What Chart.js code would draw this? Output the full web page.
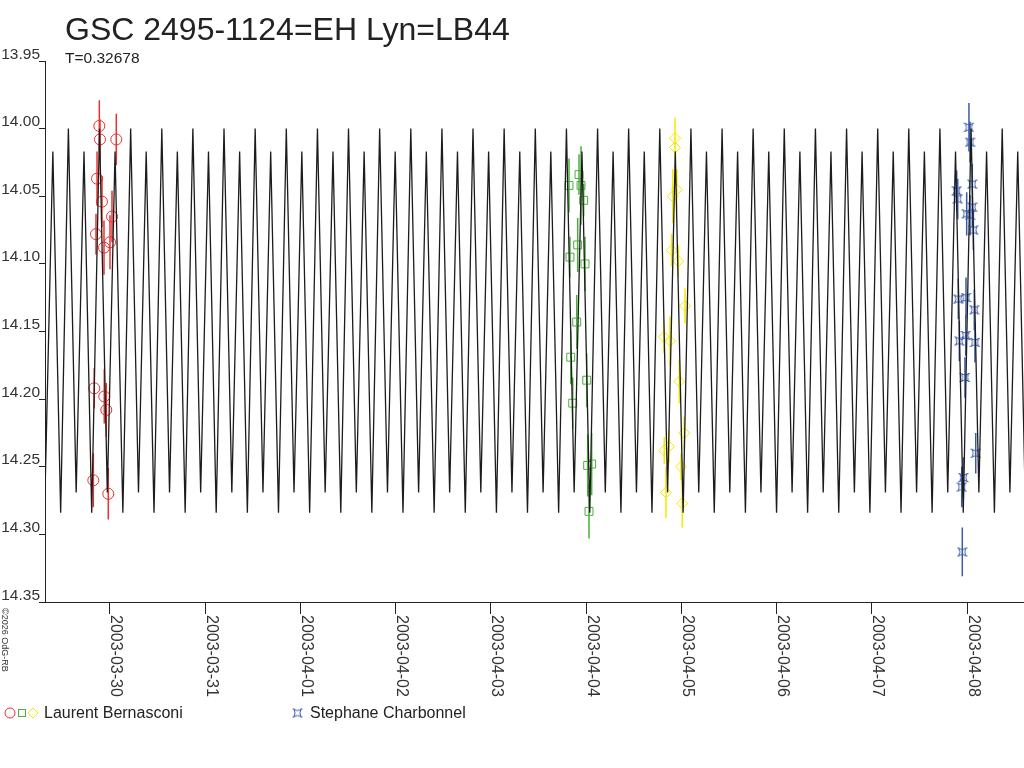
<!DOCTYPE html>
<html>
<head>
<meta charset="utf-8">
<title>GSC 2495-1124=EH Lyn=LB44</title>
<script src="https://cdn.jsdelivr.net/npm/chart.js@4.4.1/dist/chart.umd.min.js"></script>
<style>
  html, body { margin: 0; padding: 0; background: #fff; }
  #lightCurve { display: block; }
</style>
</head>
<body>
<canvas id="lightCurve" width="1024" height="768"></canvas>
<script>
// x values are days counted from 2003-03-00 (so 2003-04-01 = 32)
const xTickDays = [30, 31, 32, 33, 34, 35, 36, 37, 38, 39];
const xTickLabels = ['2003-03-30', '2003-03-31', '2003-04-01', '2003-04-02', '2003-04-03',
                     '2003-04-04', '2003-04-05', '2003-04-06', '2003-04-07', '2003-04-08'];
const yTicks = [13.95, 14.00, 14.05, 14.10, 14.15, 14.20, 14.25, 14.30, 14.35];

// model light curve, extrema (T = 0.32678 d)
const curveDays = [
  29.237, 29.318, 29.400, 29.482,  29.563, 29.645, 29.727, 29.808,
  29.890, 29.972, 30.053, 30.135,  30.217, 30.299, 30.380, 30.462,
  30.544, 30.625, 30.707, 30.789,  30.870, 30.952, 31.034, 31.115,
  31.197, 31.279, 31.361, 31.442,  31.524, 31.606, 31.687, 31.769,
  31.851, 31.932, 32.014, 32.096,  32.178, 32.259, 32.341, 32.423,
  32.504, 32.586, 32.668, 32.749,  32.831, 32.913, 32.994, 33.076,
  33.158, 33.240, 33.321, 33.403,  33.485, 33.566, 33.648, 33.730,
  33.811, 33.893, 33.975, 34.057,  34.138, 34.220, 34.302, 34.383,
  34.465, 34.547, 34.628, 34.710,  34.792, 34.873, 34.955, 35.037,
  35.119, 35.200, 35.282, 35.364,  35.445, 35.527, 35.609, 35.690,
  35.772, 35.854, 35.935, 36.017,  36.099, 36.181, 36.262, 36.344,
  36.426, 36.507, 36.589, 36.671,  36.752, 36.834, 36.916, 36.998,
  37.079, 37.161, 37.243, 37.324,  37.406, 37.488, 37.569, 37.651,
  37.733, 37.815, 37.896, 37.978,  38.060, 38.141, 38.223, 38.305,
  38.386, 38.468, 38.550, 38.631,  38.713, 38.795, 38.877, 38.958,
  39.040, 39.122, 39.203, 39.285,  39.367, 39.448, 39.530, 39.612,
  39.693
];
const curveMags = [
  14.000, 14.269, 14.017, 14.284,  14.000, 14.269, 14.017, 14.284,
  14.000, 14.269, 14.017, 14.284,  14.000, 14.269, 14.017, 14.284,
  14.000, 14.269, 14.017, 14.284,  14.000, 14.269, 14.017, 14.284,
  14.000, 14.269, 14.017, 14.284,  14.000, 14.269, 14.017, 14.284,
  14.000, 14.269, 14.017, 14.284,  14.000, 14.269, 14.017, 14.284,
  14.000, 14.269, 14.017, 14.284,  14.000, 14.269, 14.017, 14.284,
  14.000, 14.269, 14.017, 14.284,  14.000, 14.269, 14.017, 14.284,
  14.000, 14.269, 14.017, 14.284,  14.000, 14.269, 14.017, 14.284,
  14.000, 14.269, 14.017, 14.284,  14.000, 14.269, 14.017, 14.284,
  14.000, 14.269, 14.017, 14.284,  14.000, 14.269, 14.017, 14.284,
  14.000, 14.269, 14.017, 14.284,  14.000, 14.269, 14.017, 14.284,
  14.000, 14.269, 14.017, 14.284,  14.000, 14.269, 14.017, 14.284,
  14.000, 14.269, 14.017, 14.284,  14.000, 14.269, 14.017, 14.284,
  14.000, 14.269, 14.017, 14.284,  14.000, 14.269, 14.017, 14.284,
  14.000, 14.269, 14.017, 14.284,  14.000, 14.269, 14.017, 14.284,
  14.000, 14.269, 14.017, 14.284,  14.000, 14.269, 14.017, 14.284,
  14.000
];

// Laurent Bernasconi, night 1 (red circles)
const redDays = [29.888, 29.895, 30.066, 29.864, 29.916, 30.021, 29.853, 30.000, 29.937, 29.835, 29.940, 29.961, 29.825, 29.982];
const redMags = [13.998, 14.008, 14.008, 14.037, 14.054, 14.065, 14.078, 14.084, 14.088, 14.192, 14.198, 14.208, 14.260, 14.270];
const redErr  = [0.019, 0.015, 0.019, 0.020, 0.019, 0.019, 0.015, 0.020, 0.020, 0.015, 0.020, 0.020, 0.020, 0.019];

// Laurent Bernasconi, night 2 (green squares)
const greenDays = [34.819, 34.924, 34.945, 34.973, 34.910, 34.829, 34.987, 34.900, 34.837, 35.005, 34.858, 35.015, 35.057, 35.029];
const greenMags = [14.042, 14.034, 14.042, 14.053, 14.086, 14.095, 14.100, 14.143, 14.169, 14.186, 14.203, 14.249, 14.248, 14.283];
const greenErr  = [0.020, 0.015, 0.029, 0.012, 0.020, 0.015, 0.020, 0.020, 0.020, 0.020, 0.019, 0.023, 0.023, 0.020];

// Laurent Bernasconi, night 3 (yellow diamonds)
const yellowDays = [35.932, 35.932, 35.950, 35.908, 35.897, 35.966, 36.037, 35.816, 35.879, 35.977, 36.029, 35.819, 35.869, 35.995, 35.837, 36.008];
const yellowMags = [14.007, 14.014, 14.045, 14.050, 14.090, 14.098, 14.131, 14.154, 14.157, 14.187, 14.225, 14.238, 14.235, 14.250, 14.269, 14.277];
const yellowErr  = [0.015, 0.015, 0.015, 0.020, 0.012, 0.012, 0.013, 0.012, 0.018, 0.016, 0.012, 0.010, 0.012, 0.010, 0.019, 0.018];

// Stephane Charbonnel (blue stars)
const blueDays = [39.018, 39.029, 39.053, 38.889, 38.900, 39.053, 38.994, 39.029, 39.064, 38.906, 38.987, 39.074, 38.984, 38.917, 39.081, 38.976, 39.089, 38.959, 38.942, 38.948];
const blueMags = [13.999, 14.010, 14.041, 14.046, 14.052, 14.058, 14.063, 14.064, 14.075, 14.126, 14.125, 14.134, 14.153, 14.157, 14.158, 14.184, 14.240, 14.258, 14.265, 14.313];
const blueErr  = [0.018, 0.015, 0.015, 0.015, 0.015, 0.015, 0.016, 0.015, 0.015, 0.015, 0.015, 0.015, 0.015, 0.015, 0.015, 0.015, 0.015, 0.015, 0.015, 0.018];

const RED = '#e8322f', GREEN = '#4cae3c', YELLOW = '#f5e800', BLUE = '#3b5aa6', INK = '#222222';
const FONT = '"Liberation Sans", Arial, Helvetica, sans-serif';

function points(days, mags) {
  return days.map((d, i) => ({ x: d, y: mags[i] }));
}

// one vertical segment per measurement, separated by gaps
function errorBars(days, mags, errs) {
  const pts = [];
  days.forEach((d, i) => {
    pts.push({ x: d, y: mags[i] - errs[i] }, { x: d, y: mags[i] + errs[i] }, { x: d, y: null });
  });
  return pts;
}

// little concave-square star used by the second observer
function makeStar(color) {
  const c = document.createElement('canvas');
  c.width = 11; c.height = 11;
  const g = c.getContext('2d');
  g.strokeStyle = color;
  g.lineWidth = 1;
  g.beginPath();
  g.moveTo(2, 2);
  g.quadraticCurveTo(5.5, 4.2, 9, 2);
  g.quadraticCurveTo(6.8, 5.5, 9, 9);
  g.quadraticCurveTo(5.5, 6.8, 2, 9);
  g.quadraticCurveTo(4.2, 5.5, 2, 2);
  g.stroke();
  g.beginPath();
  g.moveTo(0.5, 1.5); g.lineTo(2.5, 1.5); g.moveTo(8.5, 1.5); g.lineTo(10.5, 1.5);
  g.moveTo(0.5, 9.5); g.lineTo(2.5, 9.5); g.moveTo(8.5, 9.5); g.lineTo(10.5, 9.5);
  g.stroke();
  return c;
}
const starImg = makeStar(BLUE);

const decorations = {
  id: 'decorations',
  afterDraw(chart) {
    const ctx = chart.ctx;
    const xs = chart.scales.x, ys = chart.scales.y;
    ctx.save();
    ctx.fillStyle = INK;

    ctx.font = '32px ' + FONT;
    ctx.textAlign = 'left';
    ctx.textBaseline = 'alphabetic';
    ctx.fillText('GSC 2495-1124=EH Lyn=LB44', 65, 39.5);
    ctx.font = '15.5px ' + FONT;
    ctx.fillText('T=0.32678', 65, 63);

    // y labels sit just above their tick, left of the axis
    ctx.fillStyle = '#333';
    ctx.font = '15.5px ' + FONT;
    ctx.textAlign = 'right';
    yTicks.forEach(v => {
      ctx.fillText(v.toFixed(2), 40, ys.getPixelForValue(v) - 2.5);
    });

    // x labels read top to bottom, hugging the tick on its right
    ctx.font = '16px ' + FONT;
    ctx.textAlign = 'left';
    xTickDays.forEach((d, i) => {
      const px = xs.getPixelForValue(d);
      ctx.save();
      ctx.translate(px + 1.5, 615);
      ctx.rotate(Math.PI / 2);
      ctx.fillText(xTickLabels[i], 0, 0);
      ctx.restore();
    });

    ctx.save();
    ctx.font = '9px ' + FONT;
    ctx.translate(2, 608);
    ctx.rotate(Math.PI / 2);
    ctx.fillText('\u00a92026 OdG-RB', 0, 0);
    ctx.restore();

    // legend
    const ly = 713;
    ctx.lineWidth = 1;
    ctx.strokeStyle = RED;
    ctx.beginPath(); ctx.arc(10, ly, 5, 0, Math.PI * 2); ctx.stroke();
    ctx.strokeStyle = GREEN;
    ctx.strokeRect(18.5, ly - 3.5, 7, 7);
    ctx.strokeStyle = YELLOW;
    ctx.beginPath();
    ctx.moveTo(33, ly - 5); ctx.lineTo(38, ly); ctx.lineTo(33, ly + 5); ctx.lineTo(28, ly); ctx.closePath();
    ctx.stroke();
    ctx.drawImage(starImg, 292, ly - 5.5);

    ctx.fillStyle = INK;
    ctx.font = '16px ' + FONT;
    ctx.fillText('Laurent Bernasconi', 44, 718);
    ctx.fillText('Stephane Charbonnel', 310, 718);
    ctx.restore();
  }
};

const markerBase = { showLine: false, borderWidth: 1, backgroundColor: 'rgba(0,0,0,0)', pointHoverRadius: 0 };
const barBase = { showLine: true, pointRadius: 0, borderWidth: 1.5, spanGaps: false, tension: 0 };

new Chart(document.getElementById('lightCurve'), {
  type: 'scatter',
  data: {
    datasets: [
      { label: 'model', data: points(curveDays, curveMags), showLine: true, pointRadius: 0,
        borderColor: '#1c1c1c', borderWidth: 1.3, tension: 0, borderJoinStyle: 'bevel' },
      Object.assign({ label: 'err red', data: errorBars(redDays, redMags, redErr), borderColor: RED }, barBase),
      Object.assign({ label: 'err green', data: errorBars(greenDays, greenMags, greenErr), borderColor: GREEN }, barBase),
      Object.assign({ label: 'err yellow', data: errorBars(yellowDays, yellowMags, yellowErr), borderColor: YELLOW }, barBase),
      Object.assign({ label: 'err blue', data: errorBars(blueDays, blueMags, blueErr), borderColor: BLUE }, barBase),
      Object.assign({ label: 'Laurent Bernasconi', data: points(redDays, redMags), pointStyle: 'circle',
        pointRadius: 5.5, borderColor: RED }, markerBase),
      Object.assign({ label: 'Laurent Bernasconi ', data: points(greenDays, greenMags), pointStyle: 'rect',
        pointRadius: 5.6, borderColor: GREEN }, markerBase),
      Object.assign({ label: 'Laurent Bernasconi  ', data: points(yellowDays, yellowMags), pointStyle: 'rectRot',
        pointRadius: 5.5, borderColor: YELLOW }, markerBase),
      Object.assign({ label: 'Stephane Charbonnel', data: points(blueDays, blueMags), pointStyle: starImg,
        pointRadius: 5.5, borderColor: BLUE }, markerBase)
    ]
  },
  options: {
    responsive: false,
    animation: false,
    devicePixelRatio: 1,
    layout: { autoPadding: false, padding: { top: 61, right: 0, bottom: 0, left: 0 } },
    plugins: {
      legend: { display: false },
      tooltip: { enabled: false },
      title: { display: false }
    },
    scales: {
      x: {
        type: 'linear',
        min: 29.3176,
        max: 39.5958,
        afterBuildTicks: s => { s.ticks = xTickDays.map(v => ({ value: v })); },
        afterFit: s => { s.height = 166; },
        ticks: { display: false },
        grid: { drawOnChartArea: false, drawTicks: true, tickLength: 12, color: INK, lineWidth: 1 },
        border: { display: true, color: INK, width: 1 }
      },
      y: {
        type: 'linear',
        reverse: true,
        min: 13.95,
        max: 14.35,
        afterBuildTicks: s => { s.ticks = yTicks.map(v => ({ value: v })); },
        afterFit: s => { s.width = 45; },
        ticks: { display: false },
        grid: { drawOnChartArea: false, drawTicks: true, tickLength: 6, color: INK, lineWidth: 1 },
        border: { display: true, color: INK, width: 1 }
      }
    }
  },
  plugins: [decorations]
});
</script>
</body>
</html>
